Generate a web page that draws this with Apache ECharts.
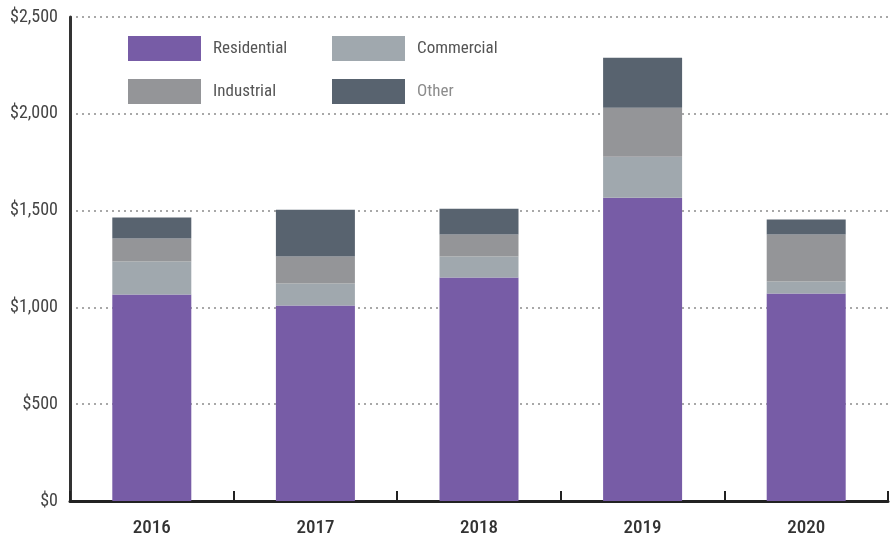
<!DOCTYPE html>
<html>
<head>
<meta charset="utf-8">
<script src="https://cdn.jsdelivr.net/npm/echarts@6/dist/echarts.min.js"></script>
<style>
html,body{margin:0;padding:0;background:#fff;}
#chart{width:890px;height:543px;}
</style>
</head>
<body>
<div id="chart"></div>
<script>
let years = ["2016", "2017", "2018", "2019", "2020"];
let residential = [1067, 1010, 1155, 1567, 1072];
let commercial = [170, 114, 108, 211, 62];
let industrial = [119, 139, 113, 253, 242];
let other = [108, 242, 134, 258, 78];
let yTicks = [0, 500, 1000, 1500, 2000, 2500];

let font = "'Liberation Sans Narrow', 'Roboto Condensed', Roboto, sans-serif";
let colors = {
    Residential: "#775ca6",
    Commercial: "#a0a8ae",
    Industrial: "#949598",
    Other: "#58636f"
};

function legendAt(name, left, top, textColor) {
    return {
        data: [name],
        left: left,
        top: top,
        padding: 0,
        itemWidth: 73,
        itemHeight: 25,
        icon: "rect",
        selectedMode: false,
        textStyle: {color: textColor, fontSize: 17, fontFamily: font, padding: [0, 0, 0, 7]}
    };
}

function barSeries(name, data) {
    return {
        name: name,
        type: "bar",
        stack: "total",
        barWidth: 79,
        itemStyle: {color: colors[name]},
        data: data
    };
}

let chart = echarts.init(document.getElementById("chart"));
chart.setOption({
    animation: false,
    legend: [
        legendAt("Residential", 128, 36, "#555"),
        legendAt("Commercial", 332, 36, "#555"),
        legendAt("Industrial", 128, 79, "#555"),
        legendAt("Other", 332, 79, "#8c8c8c")
    ],
    grid: {left: 70, right: 2, top: 17, bottom: 42},
    xAxis: {
        type: "category",
        data: years,
        axisLine: {lineStyle: {color: "#222", width: 3}},
        axisTick: {show: true, inside: true, length: 10, lineStyle: {color: "#222", width: 2}},
        axisLabel: {color: "#333", fontSize: 19, fontFamily: font, fontWeight: 500, margin: 18}
    },
    yAxis: {
        type: "value",
        min: yTicks[0],
        max: yTicks[yTicks.length - 1],
        interval: 500,
        axisLine: {show: true, lineStyle: {color: "#333", width: 3}},
        axisTick: {show: false},
        axisLabel: {
            color: "#444",
            fontSize: 18,
            fontFamily: font,
            margin: 12,
            formatter: function (v) { return "$" + v.toLocaleString("en-US"); }
        },
        splitLine: {lineStyle: {color: "#a8a8a8", width: 2, type: [2, 4]}}
    },
    series: [
        barSeries("Residential", residential),
        barSeries("Commercial", commercial),
        barSeries("Industrial", industrial),
        barSeries("Other", other)
    ]
});
</script>
</body>
</html>
